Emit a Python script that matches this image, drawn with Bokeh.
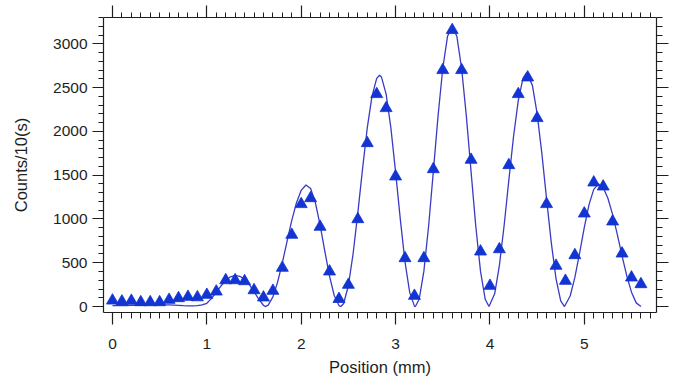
from bokeh.plotting import figure
from bokeh.models import Range1d, LinearAxis, SingleIntervalTicker, CustomJSTickFormatter
from bokeh.embed import file_html
from bokeh.resources import INLINE

# measured data (position in mm, counts per 10 s)
position = [0.0, 0.1, 0.2, 0.3, 0.4, 0.5, 0.6, 0.7, 0.8, 0.9,
            1.0, 1.1, 1.2, 1.3, 1.4, 1.5, 1.6, 1.7, 1.8, 1.9,
            2.0, 2.1, 2.2, 2.3, 2.4, 2.5, 2.6, 2.7, 2.8, 2.9,
            3.0, 3.1, 3.2, 3.3, 3.4, 3.5, 3.6, 3.7, 3.8, 3.9,
            4.0, 4.1, 4.2, 4.3, 4.4, 4.5, 4.6, 4.7, 4.8, 4.9,
            5.0, 5.1, 5.2, 5.3, 5.4, 5.5, 5.6]
counts = [68, 57, 65, 49, 49, 49, 76, 95, 110, 105,
          133, 171, 300, 300, 289, 186, 103, 179, 442, 819,
          1169, 1237, 910, 400, 86, 248, 997, 1865, 2425, 2265,
          1485, 552, 122, 552, 1568, 2699, 3156, 2699, 1675, 628,
          236, 654, 1614, 2425, 2615, 2151, 1169, 465, 293, 586,
          1062, 1416, 1370, 971, 605, 331, 255]

# fitted curve
fit_x = [0.00, 0.05, 0.10, 0.15, 0.20, 0.25, 0.30, 0.35, 0.40, 0.45,
         0.50, 0.55, 0.60, 0.65, 0.70, 0.75, 0.80, 0.85, 0.90, 0.95,
         1.00, 1.05, 1.10, 1.15, 1.20, 1.25, 1.30, 1.35, 1.40, 1.45,
         1.50, 1.55, 1.60, 1.62, 1.65, 1.70, 1.75, 1.80, 1.85, 1.90,
         1.95, 2.00, 2.05, 2.10, 2.15, 2.20, 2.25, 2.30, 2.35, 2.40,
         2.42, 2.45, 2.50, 2.55, 2.60, 2.65, 2.70, 2.75, 2.80, 2.83,
         2.85, 2.90, 2.95, 3.00, 3.05, 3.10, 3.15, 3.20, 3.21, 3.25,
         3.30, 3.35, 3.40, 3.45, 3.50, 3.55, 3.60, 3.65, 3.70, 3.75,
         3.80, 3.85, 3.90, 3.95, 3.99, 4.05, 4.10, 4.15, 4.20, 4.25,
         4.30, 4.35, 4.39, 4.45, 4.50, 4.55, 4.60, 4.65, 4.70, 4.75,
         4.79, 4.85, 4.90, 4.95, 5.00, 5.05, 5.10, 5.15, 5.20, 5.25,
         5.30, 5.35, 5.40, 5.45, 5.50, 5.55, 5.60]
fit_y = [10, 10, 11, 12, 13, 14, 15, 16, 17, 18,
         19, 19, 18, 16, 13, 10, 8, 8, 10, 18,
         37, 93, 163, 235, 298, 340, 355, 345, 310, 250,
         170, 85, 15, 0, 16, 110, 279, 499, 745, 984,
         1186, 1327, 1388, 1348, 1186, 933, 634, 348, 126, 11,
         0, 35, 240, 603, 1069, 1571, 2039, 2400, 2605, 2640,
         2622, 2425, 2042, 1537, 998, 509, 159, 5, 0, 83,
         404, 917, 1540, 2174, 2718, 3082, 3210, 3082, 2718, 2174,
         1540, 917, 404, 83, 0, 145, 468, 922, 1440, 1941,
         2350, 2605, 2670, 2525, 2202, 1748, 1230, 729, 320, 65,
         0, 120, 333, 611, 905, 1163, 1338, 1400, 1358, 1236,
         1050, 821, 578, 350, 164, 42, 0]

TEXT = "#1e1e1e"
FONT = "Liberation Sans"

p = figure(width=675, height=378,
           x_range=Range1d(-0.095, 5.765), y_range=Range1d(-68, 3300),
           x_axis_type=None, y_axis_type=None,
           output_backend="svg", toolbar_location=None,
           min_border_left=103, min_border_right=19,
           min_border_top=17, min_border_bottom=66)
p.outline_line_color = None
p.background_fill_color = "white"
p.border_fill_color = "white"


def style(ax, major_out, minor_out, labels=True):
    ax.axis_line_color = TEXT
    ax.axis_line_width = 1.2
    ax.major_tick_line_color = TEXT
    ax.minor_tick_line_color = TEXT
    ax.major_tick_line_width = 1.2
    ax.minor_tick_line_width = 1.0
    ax.major_tick_in = 0
    ax.minor_tick_in = 0
    ax.major_tick_out = major_out
    ax.minor_tick_out = minor_out
    ax.major_label_text_font = FONT
    ax.major_label_text_color = TEXT
    ax.axis_label_text_font = FONT
    ax.axis_label_text_color = TEXT
    ax.axis_label_text_font_style = "normal"
    if labels:
        ax.major_label_text_font_size = "15.5px"
        ax.axis_label_text_font_size = "16.5px"
    else:
        ax.formatter = CustomJSTickFormatter(code="return ''")
        ax.major_label_text_font_size = "1px"
        ax.major_label_standoff = 0
        ax.axis_label = None


xb = LinearAxis(ticker=SingleIntervalTicker(interval=1, num_minor_ticks=10),
                axis_label="Position (mm)")
style(xb, 12, 6)
xb.major_label_standoff = 14
xb.axis_label_standoff = 6
p.add_layout(xb, "below")

xt = LinearAxis(ticker=SingleIntervalTicker(interval=1, num_minor_ticks=10))
style(xt, 12, 5, labels=False)
p.add_layout(xt, "above")

yl = LinearAxis(ticker=SingleIntervalTicker(interval=500, num_minor_ticks=5),
                axis_label="Counts/10(s)")
style(yl, 11, 5)
yl.major_label_standoff = 5
yl.axis_label_standoff = 20
p.add_layout(yl, "left")

yr = LinearAxis(ticker=SingleIntervalTicker(interval=500, num_minor_ticks=5))
style(yr, 12, 6, labels=False)
p.add_layout(yr, "right")

p.line(fit_x, fit_y, line_color="#3a3ac4", line_width=1.3)
p.scatter(position, counts, marker="triangle", size=12,
          fill_color="#1234d2", line_color="#1234d2", line_width=0.8)

open("out.html", "w").write(file_html(p, INLINE))
